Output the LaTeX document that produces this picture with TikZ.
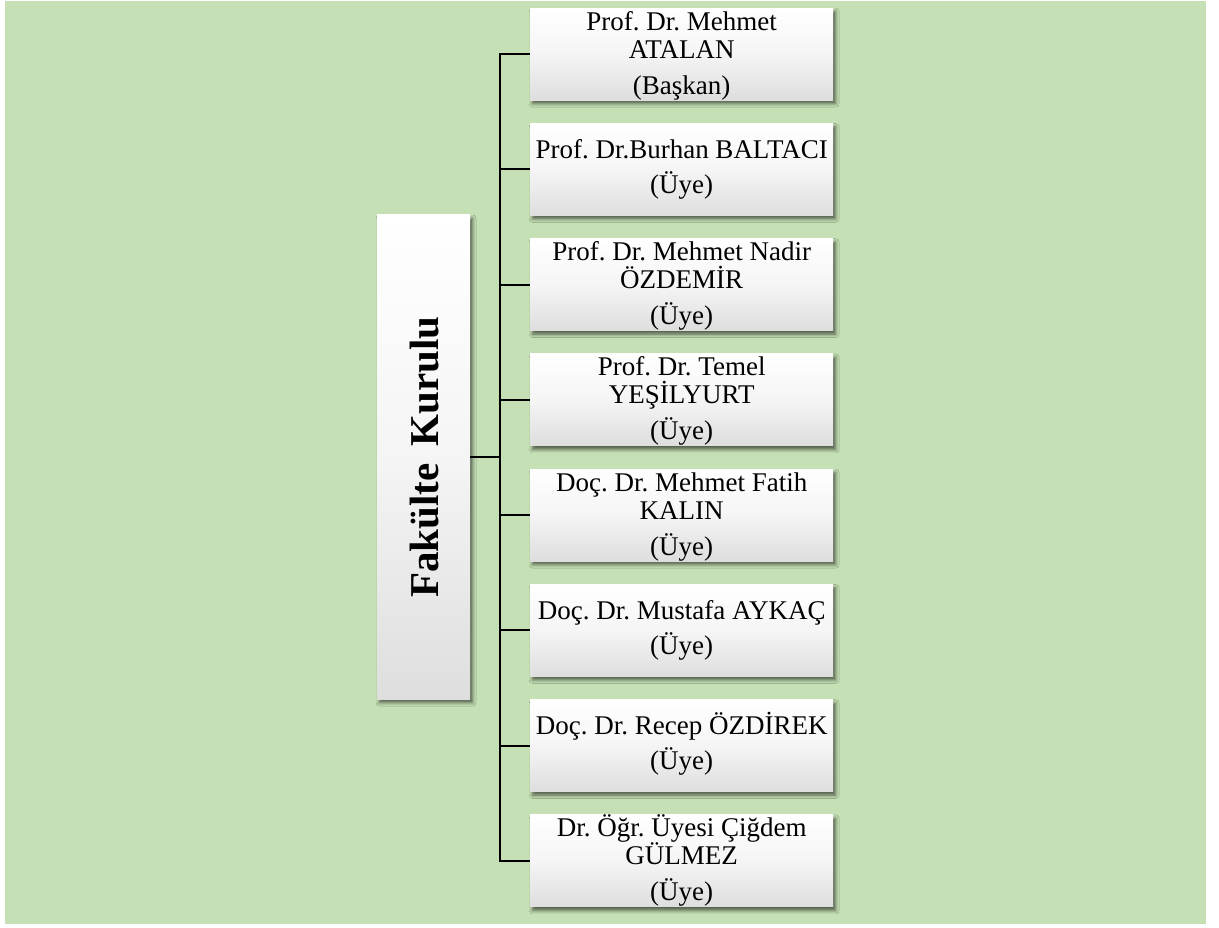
\documentclass[tikz,border=0pt]{standalone}
\usepackage{fontspec}
\setmainfont{Liberation Serif}
\usetikzlibrary{shadows.blur}
\definecolor{bggreen}{HTML}{C5E0B4}
\tikzset{
  every picture/.style={x=1pt,y=-1pt},
  card/.style={draw=none, rectangle, inner sep=0pt,
    top color=white, bottom color=black!13, middle color=white!96!black,
    blur shadow={shadow xshift=2.5pt, shadow yshift=-3.5pt, shadow blur radius=3.5pt, shadow opacity=60}},
  member/.style={card, minimum width=303pt, minimum height=92pt, anchor=north west},
  txt/.style={anchor=base, inner sep=0pt, font=\frenchspacing\fontsize{27}{28}\selectfont},
  conn/.style={line width=2pt, black}
}
\begin{document}
\begin{tikzpicture}
\useasboundingbox (0,0) rectangle (1219,928);
\fill[white] (0,0) rectangle (1219,928);
\fill[bggreen] (5,1) rectangle (1206,924);

% left box
\node[card, minimum width=93pt, minimum height=484pt] (L) at (423.5,457) {};
\node[rotate=90, inner sep=0pt, font=\fontsize{41}{44}\bfseries] (Lt) at ([xshift=1pt]L.center) {Fakülte\hspace{0.42em}Kurulu};

% member boxes
\node[member] (b1) at (530,8) {};
\node[member] (b2) at (530,123.25) {};
\node[member] (b3) at (530,238.5) {};
\node[member] (b4) at (530,353.75) {};
\node[member] (b5) at (530,469) {};
\node[member] (b6) at (530,584.25) {};
\node[member] (b7) at (530,699.5) {};
\node[member] (b8) at (530,814.75) {};

% connectors
\draw[conn] (L.east) -- ++(30,0) coordinate (hub);
\foreach \b in {b1,b2,b3,b4,b5,b6,b7,b8} {
  \draw[conn] (hub) |- (\b.west);
}

% texts
\node[txt] (t1a) at ([yshift=-23pt]b1.north) {Prof. Dr. Mehmet};
\node[txt] (t1b) at ([yshift=-51pt]b1.north) {ATALAN};
\node[txt] (t1c) at ([yshift=-87pt]b1.north) {(Başkan)};

\node[txt] (t2a) at ([yshift=-35pt]b2.north) {Prof. Dr.Burhan BALTACI};
\node[txt] (t2b) at ([yshift=-70pt]b2.north) {(Üye)};

\node[txt] (t3a) at ([yshift=-22pt]b3.north) {Prof. Dr. Mehmet Nadir};
\node[txt] (t3b) at ([yshift=-50pt]b3.north) {ÖZDEMİR};
\node[txt] (t3c) at ([yshift=-86pt]b3.north) {(Üye)};

\node[txt] (t4a) at ([yshift=-22pt]b4.north) {Prof. Dr. Temel};
\node[txt] (t4b) at ([yshift=-50pt]b4.north) {YEŞİLYURT};
\node[txt] (t4c) at ([yshift=-86pt]b4.north) {(Üye)};

\node[txt] (t5a) at ([yshift=-22pt]b5.north) {Doç. Dr. Mehmet Fatih};
\node[txt] (t5b) at ([yshift=-50pt]b5.north) {KALIN};
\node[txt] (t5c) at ([yshift=-86pt]b5.north) {(Üye)};

\node[txt] (t6a) at ([yshift=-35pt]b6.north) {Doç. Dr. Mustafa AYKAÇ};
\node[txt] (t6b) at ([yshift=-70pt]b6.north) {(Üye)};

\node[txt] (t7a) at ([yshift=-35pt]b7.north) {Doç. Dr. Recep ÖZDİREK};
\node[txt] (t7b) at ([yshift=-70pt]b7.north) {(Üye)};

\node[txt] (t8a) at ([yshift=-22pt]b8.north) {Dr. Öğr. Üyesi Çiğdem};
\node[txt] (t8b) at ([yshift=-50pt]b8.north) {GÜLMEZ};
\node[txt] (t8c) at ([yshift=-86pt]b8.north) {(Üye)};
\end{tikzpicture}
\end{document}
